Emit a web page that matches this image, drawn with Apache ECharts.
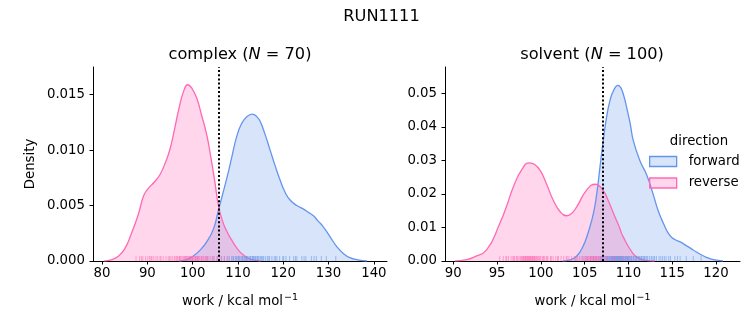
<!DOCTYPE html>
<html>
<head>
<meta charset="utf-8">
<script src="https://cdn.jsdelivr.net/npm/echarts@6/dist/echarts.min.js"></script>
<style>html,body{margin:0;padding:0;background:#fff}#c{width:753px;height:325px}</style>
</head>
<body>
<div id="c"></div>
<script>
// ---------- data ----------
const directions = ['forward', 'reverse'];
const xTicksComplex = [80, 90, 100, 110, 120, 130, 140];
const yTicksComplex = [0, 0.005, 0.010, 0.015];
const xTicksSolvent = [90, 95, 100, 105, 110, 115, 120];
const yTicksSolvent = [0, 0.01, 0.02, 0.03, 0.04, 0.05];
const meanComplex = 105.7;
const meanSolvent = 107.05;

// KDE curves
const complexForwardX = [97,98.5,100,101.7,103.2,104.6,105.7,106.6,107.5,108.6,109.7,110.8,111.9,113.2,114.2,114.9,116,117.1,118.2,119.3,120.4,121.5,123,124.4,125.5,126.6,127.7,128.8,130.3,131.8,133.2,134.7,136.5,138.5];
const complexForwardY = [0,0.0001,0.0004,0.001,0.0018,0.0029,0.0046,0.0060,0.0074,0.0093,0.0112,0.0124,0.0130,0.01325,0.0130,0.0126,0.0114,0.0100,0.0086,0.0073,0.0062,0.0055,0.0050,0.0047,0.0044,0.0041,0.0036,0.0031,0.0022,0.0013,0.0007,0.0003,0.0001,0];
const complexReverseX = [80.5,82,83.5,85,86.5,88,89.2,90.3,91.5,92.8,94,95,96,97,98,98.9,99.8,100.9,102,103.1,104,104.8,105.7,106.6,107.5,108.6,109.7,111,112.5,114,115];
const complexReverseY = [0,0.0001,0.0004,0.0011,0.0025,0.0042,0.0059,0.0066,0.0071,0.0078,0.0089,0.0101,0.0119,0.0138,0.0153,0.0159,0.0156,0.0147,0.0131,0.0114,0.0094,0.0074,0.0050,0.0036,0.0027,0.0019,0.0012,0.0006,0.0002,0.00005,0];
const solventForwardX = [102.5,103.3,104.1,104.8,105.4,106.0,106.4,106.75,107.1,107.5,107.9,108.3,108.8,109.1,109.4,109.8,110.2,110.55,111.3,112.1,112.8,113.4,114.0,114.7,115.3,115.9,116.6,117.4,118.2,118.9,119.7,120.8];
const solventForwardY = [0,0.0003,0.0015,0.0043,0.0085,0.0142,0.0205,0.0281,0.0355,0.0429,0.0480,0.0509,0.0524,0.0518,0.0499,0.0458,0.0410,0.036,0.030,0.0256,0.0201,0.0150,0.0112,0.0077,0.0064,0.0057,0.0046,0.0033,0.0020,0.0011,0.0004,0];
const solventReverseX = [90.2,91.5,92.3,93.8,95.3,96.1,96.85,97.8,98.7,99.3,99.9,100.6,101.4,102.2,102.9,103.5,104.1,105.2,106.2,107.1,107.7,108.3,108.9,109.4,110.5,111.2,112,113];
const solventReverseY = [0,0.0004,0.0011,0.0033,0.0112,0.0165,0.0221,0.0272,0.0293,0.0288,0.0271,0.0233,0.0182,0.0147,0.0135,0.0142,0.0162,0.0211,0.0229,0.0211,0.0180,0.0142,0.0105,0.0072,0.0023,0.0008,0.0002,0];

// rug samples (work values)
const complexReverseWork = [87.5,88.3,89.0,89.6,90.1,90.5,91.0,91.4,91.9,92.3,92.8,93.5,94.1,94.6,95.2,95.6,96.0,96.3,96.7,97.0,97.3,97.5,97.8,98.0,98.2,98.4,98.6,98.8,99.0,99.1,99.3,99.5,99.7,99.9,100.1,100.3,100.5,100.7,100.9,101.1,101.3,101.6,101.9,102.1,102.4,102.7,103.0,103.3,103.6,104.0,104.4,104.8,105.3,105.9,106.4,107.0,107.8,93.0,94.9,96.5,97.1,98.5,99.6,100.0,100.6,101.4,102.0,102.9,90.8,88.7];
const complexForwardWork = [101.0,103.2,104.5,105.5,106.3,107.0,107.6,108.1,108.6,109.0,109.4,109.8,110.1,110.4,110.7,111.0,111.3,111.6,111.9,112.2,112.5,112.8,113.1,113.4,113.7,114.0,114.3,114.6,114.9,115.3,115.7,116.1,116.5,117.0,117.5,118.0,118.6,119.2,119.9,120.6,121.4,122.3,123.0,124.1,125.0,126.2,127.3,128.4,129.5,131.6,108.9,109.6,110.9,111.4,112.0,112.7,113.2,113.9,114.4,115.1,116.8,118.3,120.1,122.7,124.6,126.8,110.2,111.8,113.5,115.5];
const solventReverseWork = [95.3,95.7,96.0,96.3,96.6,96.8,97.0,97.2,97.4,97.6,97.7,97.9,98.0,98.1,98.2,98.3,98.4,98.5,98.6,98.7,98.8,98.9,99.0,99.1,99.2,99.3,99.4,99.5,99.7,99.8,100.0,100.2,100.4,100.6,100.8,101.1,101.4,101.7,102.0,102.3,102.6,102.9,103.2,103.5,103.8,104.0,104.2,104.4,104.6,104.8,105.0,105.1,105.3,105.4,105.5,105.6,105.7,105.8,105.9,106.0,106.1,106.2,106.3,106.4,106.5,106.6,106.8,107.0,107.2,107.4,107.6,107.9,108.2,108.5,108.9,109.3,109.8,96.1,96.9,97.3,97.8,98.05,98.25,98.45,98.65,98.85,99.05,99.25,99.6,99.9,100.3,100.7,101.2,105.2,105.65,106.05,106.35,106.7,103.0,101.9];
const solventForwardWork = [104.0,104.8,105.3,105.7,106.0,106.3,106.6,106.8,107.0,107.2,107.35,107.5,107.6,107.7,107.8,107.9,108.0,108.1,108.2,108.3,108.4,108.5,108.6,108.7,108.8,108.9,109.0,109.1,109.2,109.3,109.4,109.5,109.6,109.7,109.8,109.9,110.0,110.1,110.2,110.35,110.5,110.65,110.8,110.95,111.1,111.25,111.4,111.55,111.7,111.85,112.0,112.2,112.4,112.6,112.9,113.2,113.5,113.9,114.3,114.8,115.3,115.9,116.6,117.4,118.3,107.45,107.65,107.85,108.05,108.15,108.25,108.35,108.45,108.55,108.65,108.75,108.85,108.95,109.05,109.15,109.25,109.45,109.65,109.85,110.05,110.3,110.6,110.9,111.2,111.5,111.8,112.1,106.9,107.1,112.7,113.0,113.7,114.1,114.6,115.6];

// ---------- styling ----------
const BLUE = '#6495ED', PINK = '#FF69B4';
const BLUE_FILL = 'rgba(100,149,237,0.26)', PINK_FILL = 'rgba(255,105,180,0.27)';
const FONT = 'DejaVu Sans';
const TICK_FS = 13.3;

const zip = (xs, ys) => xs.map((x, i) => [x, ys[i]]);

function kde(name, xs, ys, idx, color, fill) {
  return {
    type: 'line', name, xAxisIndex: idx, yAxisIndex: idx,
    data: zip(xs, ys), smooth: 0.5, showSymbol: false, symbol: 'none',
    lineStyle: { color, width: 1.3 }, itemStyle: { color },
    areaStyle: { color: fill, opacity: 1, origin: 'start' }, silent: true, z: 2
  };
}
function rug(name, vals, idx, color) {
  return {
    type: 'custom', name, xAxisIndex: idx, yAxisIndex: idx,
    data: vals.map(v => [v, 0]), silent: true, z: 3,
    renderItem: (params, api) => {
      const p = api.coord([api.value(0), 0]);
      return { type: 'line', shape: { x1: p[0], y1: p[1], x2: p[0], y2: p[1] - 5 },
               style: { stroke: color, lineWidth: 1, opacity: 0.55 } };
    }
  };
}
function meanLine(idx, v) {
  return {
    type: 'line', name: 'mean' + idx, xAxisIndex: idx, yAxisIndex: idx, data: [], z: 5,
    markLine: { silent: true, symbol: 'none', label: { show: false },
      lineStyle: { color: '#000', type: [2, 2.2], width: 2 }, data: [{ xAxis: v }] }
  };
}
function xAxis(idx, min, max, ticks) {
  return {
    type: 'value', gridIndex: idx, min, max,
    name: '{a|work / kcal mol}{s|−1}', nameLocation: 'middle', nameGap: 32,
    nameTextStyle: { fontFamily: FONT, fontSize: 13.3, color: '#000',
      rich: { a: { fontFamily: FONT, fontSize: 13.3, color: '#000', lineHeight: 18 },
              s: { fontFamily: FONT, fontSize: 9.5, color: '#000', lineHeight: 18, padding: [0, 0, 8, 1] } } },
    axisLine: { show: true, lineStyle: { color: '#000', width: 1 } },
    axisTick: { show: true, length: 3.5, lineStyle: { color: '#000', width: 1 }, customValues: ticks },
    axisLabel: { fontFamily: FONT, fontSize: TICK_FS, color: '#000', margin: 6, customValues: ticks },
    splitLine: { show: false }
  };
}
function yAxis(idx, max, ticks, dec, name) {
  return {
    type: 'value', gridIndex: idx, min: 0, max,
    name: name || '', nameLocation: 'middle', nameGap: 56,
    nameTextStyle: { fontFamily: FONT, fontSize: 13.3, color: '#000' },
    axisLine: { show: true, lineStyle: { color: '#000', width: 1 } },
    axisTick: { show: true, length: 3.5, lineStyle: { color: '#000', width: 1 }, customValues: ticks },
    axisLabel: { fontFamily: FONT, fontSize: TICK_FS, color: '#000', margin: 8, customValues: ticks,
                 formatter: v => v.toFixed(dec) },
    splitLine: { show: false }
  };
}

const richTitle = {
  a: { fontFamily: FONT, fontSize: 16.2, color: '#000', fontWeight: 'normal' },
  i: { fontFamily: FONT, fontSize: 16.2, color: '#000', fontWeight: 'normal', fontStyle: 'italic' }
};

const option = {
  animation: false,
  backgroundColor: '#fff',
  title: [
    { text: 'RUN1111', left: 376.5, top: 4, textAlign: 'center',
      textStyle: { fontFamily: FONT, fontSize: 16.2, fontWeight: 'normal', color: '#000' } },
    { text: '{a|complex (}{i|N}{a| = 70)}', left: 235, top: 42, textAlign: 'center',
      textStyle: { fontWeight: 'normal', rich: richTitle } },
    { text: '{a|solvent (}{i|N}{a| = 100)}', left: 587, top: 42, textAlign: 'center',
      textStyle: { fontWeight: 'normal', rich: richTitle } },
    { text: 'direction', left: 694, top: 130, textAlign: 'center',
      textStyle: { fontFamily: FONT, fontSize: 13.3, fontWeight: 'normal', color: '#000' } }
  ],
  legend: {
    left: 649, top: 155, padding: 0, orient: 'vertical', itemWidth: 27, itemHeight: 10, itemGap: 8.5,
    selectedMode: false,
    textStyle: { fontFamily: FONT, fontSize: 13.3, color: '#000', padding: [0, 0, 0, 7] },
    data: [
      { name: 'forward', icon: 'rect', itemStyle: { color: BLUE_FILL, borderColor: BLUE, borderWidth: 1.3 } },
      { name: 'reverse', icon: 'rect', itemStyle: { color: PINK_FILL, borderColor: PINK, borderWidth: 1.3 } }
    ]
  },
  grid: [
    { left: 93, right: 366, top: 67, bottom: 64 },
    { left: 445, right: 13, top: 67, bottom: 64 }
  ],
  xAxis: [ xAxis(0, 78.0, 142.9, xTicksComplex), xAxis(1, 89.05, 122.74, xTicksSolvent) ],
  yAxis: [ yAxis(0, 0.0175, yTicksComplex, 3, 'Density'), yAxis(1, 0.0579, yTicksSolvent, 2) ],
  series: [
    kde(directions[0], complexForwardX, complexForwardY, 0, BLUE, BLUE_FILL),
    kde(directions[1], complexReverseX, complexReverseY, 0, PINK, PINK_FILL),
    rug(directions[0], complexForwardWork, 0, BLUE),
    rug(directions[1], complexReverseWork, 0, PINK),
    meanLine(0, meanComplex),
    kde(directions[0], solventForwardX, solventForwardY, 1, BLUE, BLUE_FILL),
    kde(directions[1], solventReverseX, solventReverseY, 1, PINK, PINK_FILL),
    rug(directions[0], solventForwardWork, 1, BLUE),
    rug(directions[1], solventReverseWork, 1, PINK),
    meanLine(1, meanSolvent)
  ]
};
const chart = echarts.init(document.getElementById('c'), null, { renderer: 'canvas' });
chart.setOption(option);
</script>
</body>
</html>
